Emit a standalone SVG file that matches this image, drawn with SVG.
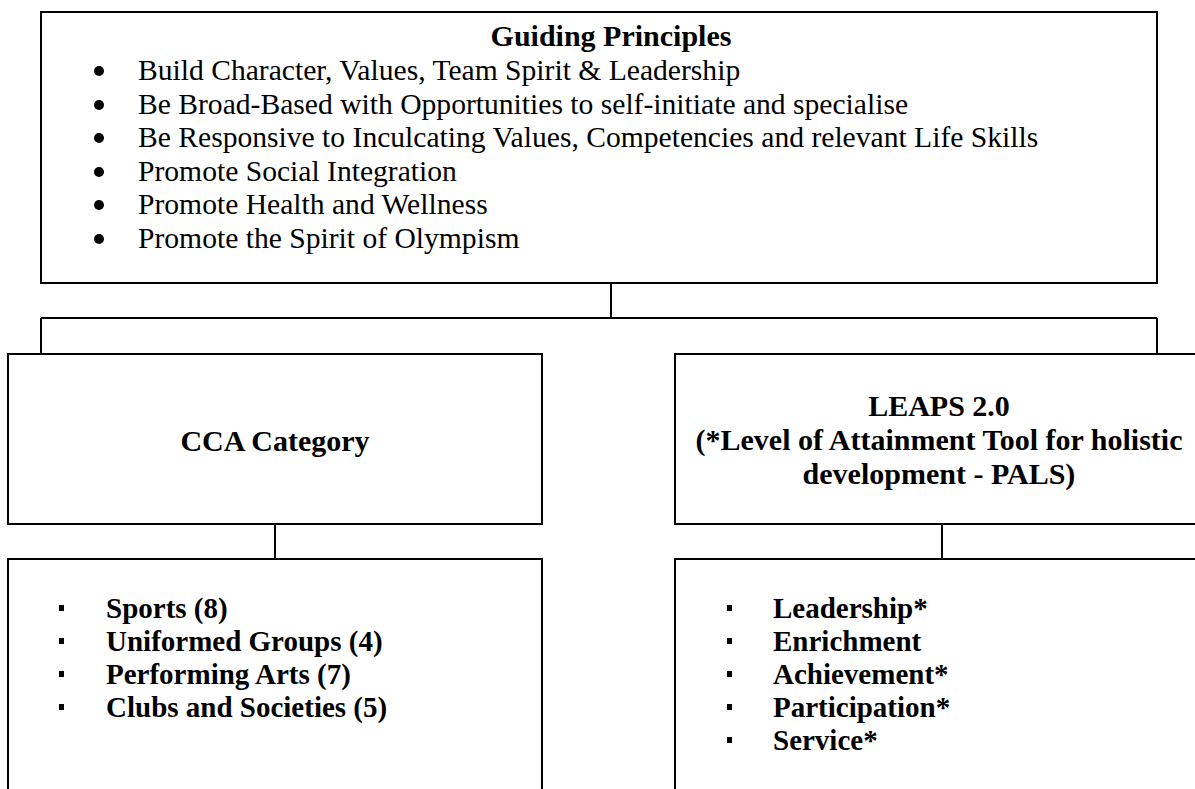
<svg xmlns="http://www.w3.org/2000/svg" width="1195" height="789" viewBox="0 0 1195 789">
<style>
.box{fill:#fff;stroke:#000;stroke-width:2}
.ln{fill:none;stroke:#000;stroke-width:2}
text{font-family:"Liberation Serif","Times New Roman",serif;fill:#000}
.t{font-size:29.6px}
.b{font-size:30px;font-weight:bold}
.li{font-size:29px;font-weight:bold}
.c{text-anchor:middle}
</style>
<rect width="1195" height="789" fill="#fff"/>
<g id="connectors">
<path class="ln" d="M611 283V318M41 318H1157M41 318V354M1157 318V354M275 524V559M942 524V559"/>
</g>
<g id="guiding">
<rect class="box" x="41" y="12" width="1116" height="271"/>
<text class="b c" x="611" y="46">Guiding Principles</text>
<g fill="#000">
<circle cx="99" cy="71" r="5"/><circle cx="99" cy="105" r="5"/><circle cx="99" cy="138" r="5"/>
<circle cx="99" cy="172" r="5"/><circle cx="99" cy="205" r="5"/><circle cx="99" cy="239" r="5"/>
</g>
<text class="t" x="138" y="80">Build Character, Values, Team Spirit &amp; Leadership</text>
<text class="t" x="138" y="114">Be Broad-Based with Opportunities to self-initiate and specialise</text>
<text class="t" x="138" y="147">Be Responsive to Inculcating Values, Competencies and relevant Life Skills</text>
<text class="t" x="138" y="181">Promote Social Integration</text>
<text class="t" x="138" y="214">Promote Health and Wellness</text>
<text class="t" x="138" y="248">Promote the Spirit of Olympism</text>
</g>
<g id="cca">
<rect class="box" x="8" y="354" width="534" height="170"/>
<text class="b c" x="275" y="451">CCA Category</text>
</g>
<g id="leaps">
<rect class="box" x="675" y="354" width="530" height="170"/>
<text class="b c" x="939" y="416">LEAPS 2.0</text>
<text class="b c" x="939" y="450">(*Level of Attainment Tool for holistic</text>
<text class="b c" x="939" y="484">development - PALS)</text>
</g>
<g id="cca-list">
<rect class="box" x="8" y="559" width="534" height="250"/>
<g fill="#000">
<rect x="59" y="605" width="5" height="6"/><rect x="59" y="638" width="5" height="6"/>
<rect x="59" y="671" width="5" height="6"/><rect x="59" y="704" width="5" height="6"/>
</g>
<text class="li" x="106" y="618">Sports (8)</text>
<text class="li" x="106" y="651">Uniformed Groups (4)</text>
<text class="li" x="106" y="684">Performing Arts (7)</text>
<text class="li" x="106" y="717">Clubs and Societies (5)</text>
</g>
<g id="leaps-list">
<rect class="box" x="675" y="559" width="530" height="250"/>
<g fill="#000">
<rect x="727" y="605" width="5" height="6"/><rect x="727" y="638" width="5" height="6"/>
<rect x="727" y="671" width="5" height="6"/><rect x="727" y="704" width="5" height="6"/>
<rect x="727" y="737" width="5" height="6"/>
</g>
<text class="li" x="773" y="618">Leadership*</text>
<text class="li" x="773" y="651">Enrichment</text>
<text class="li" x="773" y="684">Achievement*</text>
<text class="li" x="773" y="717">Participation*</text>
<text class="li" x="773" y="750">Service*</text>
</g>
</svg>
